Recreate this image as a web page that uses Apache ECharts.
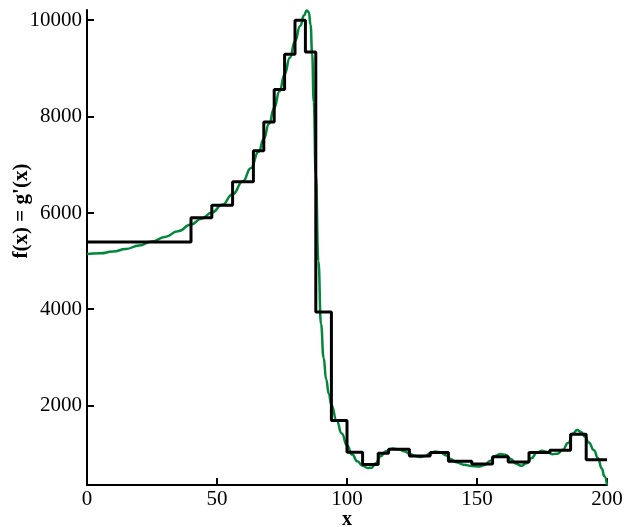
<!DOCTYPE html>
<html>
<head>
<meta charset="utf-8">
<script src="https://cdn.jsdelivr.net/npm/echarts@6/dist/echarts.min.js"></script>
<style>html,body{margin:0;padding:0;background:#fff}#c{width:625px;height:527px}</style>
</head>
<body>
<div id="c"></div>
<script>
// Step function: bin start x and value (last entry closes the final bin)
const stepX = [0, 40, 48, 56, 64, 68, 72, 76, 80, 84, 88, 94, 100, 106, 112, 116, 124, 132, 139, 148, 156, 162, 170, 178, 186, 192, 200];
const stepY = [5400, 5900, 6160, 6650, 7290, 7890, 8560, 9290, 10000, 9340, 3950, 1700, 1040, 785, 1020, 1100, 960, 1035, 850, 795, 945, 835, 1035, 1080, 1414, 882, 882];
// Smooth curve samples
const curveX = [0, 5, 10, 15, 20, 25, 30, 35, 40, 44, 48, 52, 56, 60, 63, 66, 68, 70, 72, 74, 76, 78, 80, 82, 83.5, 84.5, 85.3, 86, 86.6, 87.2, 88, 89, 90, 91, 92, 93, 94, 96, 98, 100, 102, 104, 106, 108, 109.5, 111, 113, 115, 117.5, 120, 122, 124, 126, 128, 130, 132, 134, 136, 138, 140, 142, 145, 148, 151, 153, 155, 157, 159, 161, 163, 165, 167, 169, 171, 173, 175, 177, 179, 181, 183, 185, 187, 188.5, 190, 191.5, 193, 195, 196.5, 198, 199, 200];
const curveY = [5150, 5165, 5200, 5255, 5325, 5410, 5505, 5620, 5760, 5880, 6010, 6170, 6390, 6660, 6930, 7270, 7540, 7850, 8180, 8520, 8870, 9220, 9560, 9880, 10100, 10200, 10170, 9900, 9300, 8300, 6800, 5000, 3700, 3000, 2550, 2250, 2020, 1700, 1430, 1180, 990, 850, 760, 712, 720, 810, 960, 1060, 1115, 1100, 1060, 1010, 965, 940, 960, 1015, 1055, 1040, 975, 895, 830, 780, 755, 745, 775, 860, 960, 1005, 985, 900, 800, 760, 810, 920, 1030, 1070, 1045, 1000, 1010, 1090, 1230, 1430, 1500, 1460, 1360, 1240, 1080, 920, 700, 540, 360];
const yTicks = [2000, 4000, 6000, 8000, 10000];
const xTicks = [0, 50, 100, 150, 200];

const font = 'Liberation Serif';
const Y_MIN = 360, Y_MAX = 10210, X_MIN = 0, X_MAX = 200;
const TICK_LEN = 7;

const chart = echarts.init(document.getElementById('c'));
try {
chart.setOption({
  animation: false,
  backgroundColor: '#fff',
  grid: {left: 87, right: 18, top: 10, bottom: 42, outerBoundsMode: 'none'},
  xAxis: {
    type: 'value', min: X_MIN, max: X_MAX, interval: 50,
    name: 'x', nameLocation: 'middle', nameGap: 25, nameMoveOverlap: false,
    nameTextStyle: {fontFamily: font, fontSize: 20, fontWeight: 'bold', color: '#000'},
    axisLine: {show: true, onZero: false, lineStyle: {color: '#000', width: 2}},
    axisTick: {show: true, inside: true, length: TICK_LEN, lineStyle: {color: '#000', width: 2}},
    axisLabel: {fontFamily: font, fontSize: 21, color: '#000', margin: 4, formatter: v => String(v)},
    splitLine: {show: false}
  },
  yAxis: {
    type: 'value', min: Y_MIN, max: Y_MAX,
    axisLine: {show: true, onZero: false, lineStyle: {color: '#000', width: 2}},
    axisTick: {show: false},
    axisLabel: {fontFamily: font, fontSize: 21, color: '#000', margin: 5, customValues: yTicks, formatter: v => String(v)},
    splitLine: {show: false}
  },
  graphic: [{
    type: 'text', x: 22, y: 211, rotation: Math.PI / 2,
    style: {text: "f(x) = g'(x)", fontFamily: font, fontSize: 21, fontWeight: 'bold', fill: '#000', align: 'center', verticalAlign: 'middle'}
  }],
  series: [
    {
      type: 'line', data: curveX.map((x, i) => [x, curveY[i]]),
      smooth: 0.5, smoothMonotone: 'x', showSymbol: false, clip: true,
      lineStyle: {color: '#00873a', width: 2.5}, z: 2
    },
    {
      type: 'line', data: stepX.map((x, i) => [x, stepY[i]]),
      step: 'end', showSymbol: false, clip: true,
      lineStyle: {color: '#000', width: 3}, z: 3
    },
    {
      // y-axis tick marks, placed through the axis scale
      type: 'custom', clip: false, silent: true, z: 4,
      data: yTicks.map(v => [X_MIN, v]),
      renderItem: function (params, api) {
        const p = api.coord([api.value(0), api.value(1)]);
        const y = Math.round(p[1]);
        return {type: 'line', shape: {x1: p[0], y1: y, x2: p[0] + TICK_LEN, y2: y}, style: {stroke: '#000', lineWidth: 2}};
      }
    }
  ]
});
} catch (e) {
  chart.setOption({graphic: [{type: 'text', left: 200, top: 150, style: {text: 'ERR ' + e.message, fontSize: 14, fill: 'red'}}]});
}
</script>
</body>
</html>
